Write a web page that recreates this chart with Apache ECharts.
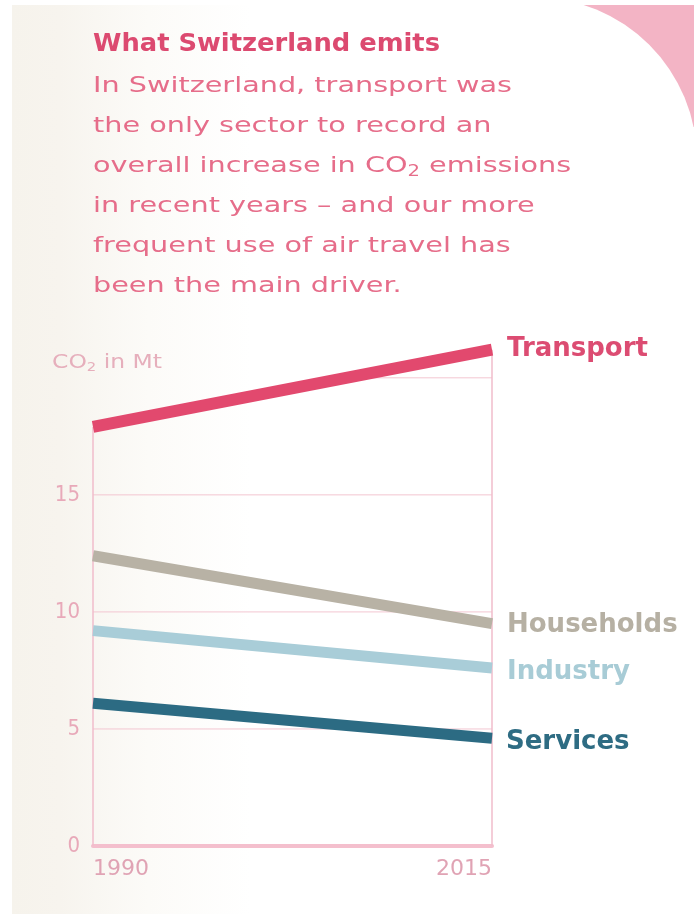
<!DOCTYPE html>
<html>
<head>
<meta charset="utf-8">
<script src="https://cdn.jsdelivr.net/npm/echarts@6/dist/echarts.min.js"></script>
<style>
html,body{margin:0;padding:0;background:#fff;}
#c{width:694px;height:914px;}
</style>
</head>
<body>
<div id="c"></div>
<script>
// ---- data ----
var years = [1990, 2015];
var seriesNames = ['Transport', 'Households', 'Industry', 'Services'];
var transport = [17.9, 21.2];
var households = [12.4, 9.5];
var industry = [9.2, 7.6];
var services = [6.1, 4.6];
var yTickLabels = [0, 5, 10, 15];
var gridLevels = [5, 10, 15, 20];
var xTickLabels = [1990, 2015];

var titleText = 'What Switzerland emits';
var bodyLines = [
  'In Switzerland, transport was',
  'the only sector to record an',
  'overall increase in CO{sub|2} emissions',
  'in recent years \u2013 and our more',
  'frequent use of air travel has',
  'been the main driver.'
];
var unitText = 'CO{s|2} in Mt';

var FONT = 'DejaVu Sans';
var FONTC = 'DejaVu Sans Condensed';
var colors = {
  Transport: '#e2496e',
  Households: '#b8b2a5',
  Industry: '#a9cdd8',
  Services: '#2c6b83'
};
var labelColors = {
  Transport: '#dc4c72',
  Households: '#b6b0a3',
  Industry: '#a8ccd6',
  Services: '#2e6c83'
};
var labelOffsets = {
  Transport: [7, 0],
  Households: [7, 2],
  Industry: [7, 4],
  Services: [6, 4]
};
var values = { Transport: transport, Households: households, Industry: industry, Services: services };

function pairs(v) { return years.map(function (y, i) { return [y, v[i]]; }); }

// text measuring to fit the reference's wide DIN-like type
var mctx = document.createElement('canvas').getContext('2d');
function measure(parts) {
  var w = 0;
  parts.forEach(function (p) { mctx.font = p[1]; w += mctx.measureText(p[0]).width; });
  return w;
}
var titleScale = 347 / measure([[titleText, 'bold 24px "' + FONT + '"']]);
var bodyScale = 419 / measure([[bodyLines[0], '22px "' + FONT + '"']]);
var unitScale = 110 / measure([['CO', '19px "' + FONT + '"'], ['2', '12px "' + FONT + '"'], [' in Mt', '19px "' + FONT + '"']]);

// gridlines: drawn below the transport line only
var gridSeries = gridLevels.map(function (lvl) {
  var x0 = years[0], x1 = years[1];
  if (transport[0] < lvl) {
    x0 = years[0] + (lvl - transport[0]) / (transport[1] - transport[0]) * (years[1] - years[0]);
  }
  return {
    type: 'line', silent: true, symbol: 'none', z: 1,
    data: [[x0, lvl], [x1, lvl]],
    lineStyle: { color: '#f3c6d1', width: 1 }
  };
});
var verticalSeries = years.map(function (y, i) {
  return {
    type: 'line', silent: true, symbol: 'none', z: 1,
    data: [[y, 0], [y, transport[i]]],
    lineStyle: { color: '#f1bccb', width: 1.5 }
  };
});

var dataSeries = seriesNames.map(function (name) {
  return {
    name: name, type: 'line', symbol: 'none', z: 5,
    data: pairs(values[name]),
    lineStyle: { color: colors[name], width: name === 'Transport' ? 12 : 11, cap: 'butt' },
    endLabel: {
      show: true, formatter: name, color: labelColors[name],
      fontFamily: FONT, fontWeight: 'bold', fontSize: 26,
      offset: labelOffsets[name]
    }
  };
});

var chart = echarts.init(document.getElementById('c'), null, { renderer: 'canvas' });
chart.setOption({
  animation: false,
  backgroundColor: 'transparent',
  grid: { left: 93, right: 202, top: 331, bottom: 68 },
  xAxis: {
    type: 'value', min: 1990, max: 2015, interval: 5,
    axisLine: { show: true, lineStyle: { color: '#f4bfcd', width: 4 } },
    axisTick: { show: false },
    splitLine: { show: false },
    axisLabel: {
      margin: 12, color: '#e0a3b4', fontFamily: FONT, fontSize: 22,
      alignMinLabel: 'left', alignMaxLabel: 'right',
      formatter: function (v) { return xTickLabels.indexOf(v) >= 0 ? String(v) : ''; }
    }
  },
  yAxis: {
    type: 'value', min: 0, max: 22, interval: 5,
    axisLine: { show: false }, axisTick: { show: false }, splitLine: { show: false },
    axisLabel: {
      margin: 13, color: '#e8a9b9', fontFamily: FONTC, fontSize: 22,
      formatter: function (v) { return yTickLabels.indexOf(v) >= 0 ? String(v) : ''; }
    }
  },
  graphic: [
    { type: 'rect', z: -10, shape: { x: 12, y: 5, width: 682, height: 909 },
      style: { fill: new echarts.graphic.LinearGradient(0, 0, 1, 0, [
        { offset: 0, color: '#f6f3ec' }, { offset: 0.07, color: '#f7f4ee' },
        { offset: 0.2, color: '#fcfbf8' }, { offset: 0.35, color: '#ffffff' }, { offset: 1, color: '#ffffff' }]) } },
    { type: 'rect', z: -9, shape: { x: 560, y: 5, width: 134, height: 122 }, style: { fill: '#f3b4c5' } },
    { type: 'circle', z: -8, shape: { cx: 534, cy: 160, r: 163 }, style: { fill: '#ffffff' } },
    { type: 'text', z: 10, x: 93, y: 33, scaleX: titleScale,
      style: { x: 0, y: 0, verticalAlign: 'top', text: titleText, fill: '#dc4a70', font: 'bold 24px "' + FONT + '"' } },
    { type: 'text', z: 10, x: 93, y: 66, scaleX: bodyScale,
      style: {
        x: 0, y: 0, verticalAlign: 'top',
        text: bodyLines.join('\n'),
        fill: '#e66d8a', fontFamily: FONT, fontSize: 22, lineHeight: 40,
        rich: { sub: { fontFamily: FONT, fontSize: 15, fill: '#e66d8a', padding: [12, 0, 0, 0], lineHeight: 40 } }
      } },
    { type: 'text', z: 10, x: 52, y: 353, scaleX: unitScale,
      style: {
        x: 0, y: 0, verticalAlign: 'top',
        text: unitText, fill: '#e6afbc', fontFamily: FONT, fontSize: 19,
        rich: { s: { fontSize: 12, fill: '#e6afbc', fontFamily: FONT, padding: [9, 0, 0, 0] } }
      } }
  ],
  series: gridSeries.concat(verticalSeries).concat(dataSeries)
});
</script>
</body>
</html>
